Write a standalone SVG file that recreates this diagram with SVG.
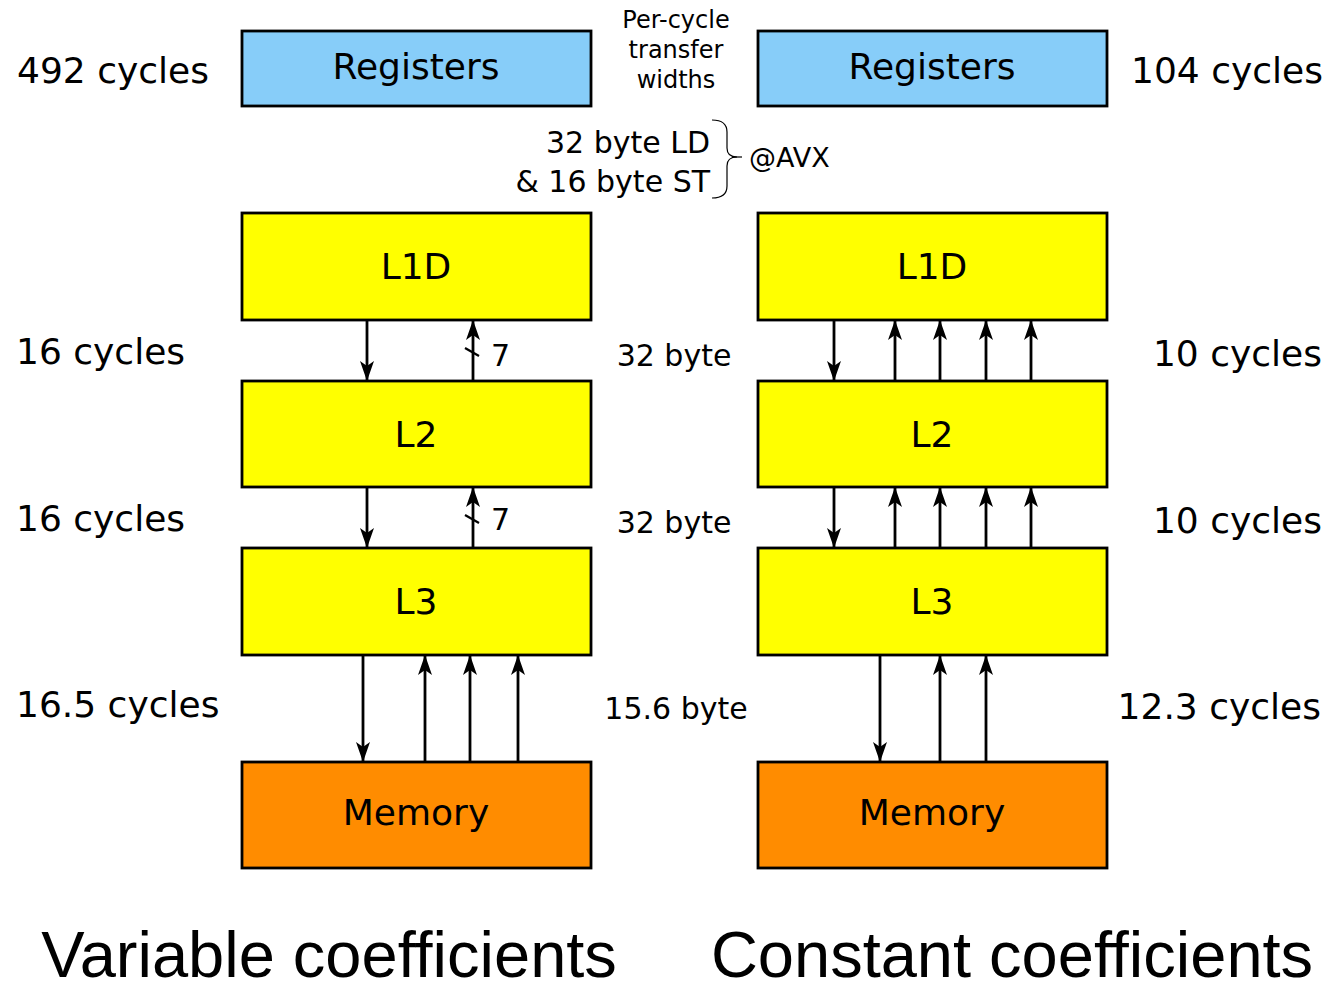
<svg xmlns="http://www.w3.org/2000/svg" width="1326" height="982" viewBox="0 0 1326 982">
  <defs>
    <marker id="ah" viewBox="0 0 20 14" refX="19" refY="7" markerWidth="20" markerHeight="14" markerUnits="userSpaceOnUse" orient="auto">
      <path d="M0,0 L20,7 L0,14 L5,7 Z" fill="#000"/>
    </marker>
  </defs>
  <style>
    .box { stroke: #000; stroke-width: 2.8; }
    .reg { fill: #87cdf9; }
    .cache { fill: #ffff00; }
    .mem { fill: #ff8c00; }
    .lbl { font-family: "DejaVu Sans", sans-serif; fill: #000; }
    .big { font-size: 36px; }
    .mid { font-size: 30px; }
    .sm { font-size: 24px; }
    .title { font-family: "Liberation Sans", Arial, sans-serif; font-size: 65px; fill: #000; }
    .ln { stroke: #000; stroke-width: 2.8; fill: none; marker-end: url(#ah); }
    .plain { stroke: #000; stroke-width: 2.2; fill: none; }
  </style>
  <rect width="1326" height="982" fill="#fff"/>

  <!-- Left hierarchy: variable coefficients -->
  <g id="reg-left"><rect class="box reg" x="242" y="31" width="349" height="75"/><text class="lbl big" x="416" y="79" text-anchor="middle">Registers</text></g>
  <g id="l1d-left"><rect class="box cache" x="242" y="213" width="349" height="107"/><text class="lbl big" x="416" y="279" text-anchor="middle">L1D</text></g>
  <g id="l2-left"><rect class="box cache" x="242" y="381" width="349" height="106"/><text class="lbl big" x="416" y="447" text-anchor="middle">L2</text></g>
  <g id="l3-left"><rect class="box cache" x="242" y="548" width="349" height="107"/><text class="lbl big" x="416" y="614" text-anchor="middle">L3</text></g>
  <g id="mem-left"><rect class="box mem" x="242" y="762" width="349" height="106"/><text class="lbl big" x="416" y="825" text-anchor="middle">Memory</text></g>

  <!-- Right hierarchy: constant coefficients -->
  <g id="reg-right"><rect class="box reg" x="758" y="31" width="349" height="75"/><text class="lbl big" x="932" y="79" text-anchor="middle">Registers</text></g>
  <g id="l1d-right"><rect class="box cache" x="758" y="213" width="349" height="107"/><text class="lbl big" x="932" y="279" text-anchor="middle">L1D</text></g>
  <g id="l2-right"><rect class="box cache" x="758" y="381" width="349" height="106"/><text class="lbl big" x="932" y="447" text-anchor="middle">L2</text></g>
  <g id="l3-right"><rect class="box cache" x="758" y="548" width="349" height="107"/><text class="lbl big" x="932" y="614" text-anchor="middle">L3</text></g>
  <g id="mem-right"><rect class="box mem" x="758" y="762" width="349" height="106"/><text class="lbl big" x="932" y="825" text-anchor="middle">Memory</text></g>

  <!-- Connectors -->
  <g id="connectors">
    <!-- left L1D <-> L2 -->
    <line class="ln" x1="367" y1="321" x2="367" y2="380"/>
    <line class="ln" x1="473" y1="380" x2="473" y2="321"/>
    <line class="plain" x1="465" y1="348" x2="479" y2="356"/>
    <!-- left L2 <-> L3 -->
    <line class="ln" x1="367" y1="488" x2="367" y2="547"/>
    <line class="ln" x1="473" y1="547" x2="473" y2="488"/>
    <line class="plain" x1="465" y1="515" x2="479" y2="523"/>
    <!-- left L3 <-> Memory -->
    <line class="ln" x1="363" y1="656" x2="363" y2="761"/>
    <line class="ln" x1="425" y1="761" x2="425" y2="656"/>
    <line class="ln" x1="470" y1="761" x2="470" y2="656"/>
    <line class="ln" x1="518" y1="761" x2="518" y2="656"/>
    <!-- right L1D <-> L2 -->
    <line class="ln" x1="834" y1="321" x2="834" y2="380"/>
    <line class="ln" x1="895" y1="380" x2="895" y2="321"/>
    <line class="ln" x1="940" y1="380" x2="940" y2="321"/>
    <line class="ln" x1="986" y1="380" x2="986" y2="321"/>
    <line class="ln" x1="1031" y1="380" x2="1031" y2="321"/>
    <!-- right L2 <-> L3 -->
    <line class="ln" x1="834" y1="488" x2="834" y2="547"/>
    <line class="ln" x1="895" y1="547" x2="895" y2="488"/>
    <line class="ln" x1="940" y1="547" x2="940" y2="488"/>
    <line class="ln" x1="986" y1="547" x2="986" y2="488"/>
    <line class="ln" x1="1031" y1="547" x2="1031" y2="488"/>
    <!-- right L3 <-> Memory -->
    <line class="ln" x1="880" y1="656" x2="880" y2="761"/>
    <line class="ln" x1="940" y1="761" x2="940" y2="656"/>
    <line class="ln" x1="986" y1="761" x2="986" y2="656"/>
    <!-- brace -->
    <path d="M712,120 Q727,120 727,132 L727,148 Q727,157 737,157 Q727,157 727,166 L727,186 Q727,198 712,198" stroke="#000" stroke-width="1.2" fill="none"/>
    <line x1="733" y1="157" x2="742" y2="157" stroke="#000" stroke-width="1.2"/>
  </g>

  <!-- Labels -->
  <g id="labels">
    <text class="lbl big" x="17" y="83">492 cycles</text>
    <text class="lbl big" x="1323" y="83" text-anchor="end">104 cycles</text>
    <text class="lbl sm" x="676" y="28" text-anchor="middle">Per-cycle</text>
    <text class="lbl sm" x="676" y="58" text-anchor="middle">transfer</text>
    <text class="lbl sm" x="676" y="88" text-anchor="middle">widths</text>
    <text class="lbl mid" x="710" y="153" text-anchor="end">32 byte LD</text>
    <text class="lbl mid" x="710" y="192" text-anchor="end">&amp; 16 byte ST</text>
    <text class="lbl" style="font-size:27px" x="749" y="167">@AVX</text>

    <text class="lbl big" x="16" y="364">16 cycles</text>
    <text class="lbl mid" x="491" y="366">7</text>
    <text class="lbl mid" x="674" y="366" text-anchor="middle">32 byte</text>
    <text class="lbl big" x="1322" y="366" text-anchor="end">10 cycles</text>

    <text class="lbl big" x="16" y="531">16 cycles</text>
    <text class="lbl mid" x="491" y="530">7</text>
    <text class="lbl mid" x="674" y="533" text-anchor="middle">32 byte</text>
    <text class="lbl big" x="1322" y="533" text-anchor="end">10 cycles</text>

    <text class="lbl big" x="16" y="717">16.5 cycles</text>
    <text class="lbl mid" x="676" y="719" text-anchor="middle">15.6 byte</text>
    <text class="lbl big" x="1321" y="719" text-anchor="end">12.3 cycles</text>

    <text class="title" x="329" y="977" text-anchor="middle">Variable coefficients</text>
    <text class="title" x="1012" y="977" text-anchor="middle">Constant coefficients</text>
  </g>
</svg>
